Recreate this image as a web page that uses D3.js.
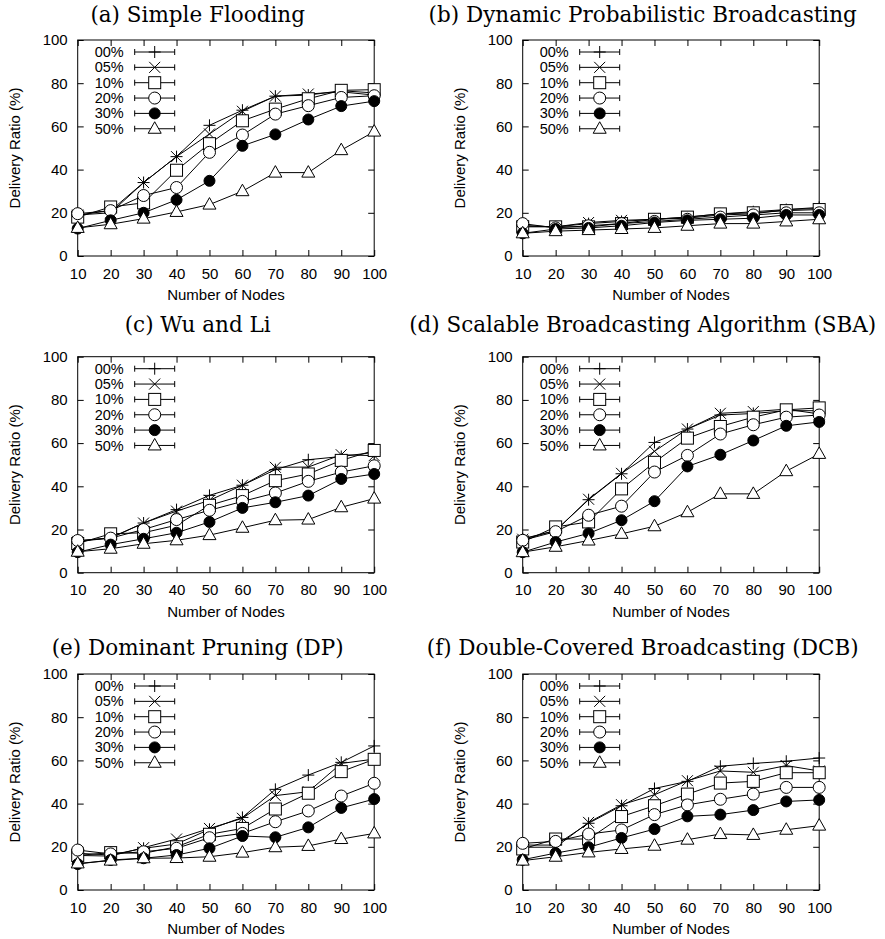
<!DOCTYPE html>
<html><head><meta charset="utf-8">
<script src="https://cdn.jsdelivr.net/npm/d3@7"></script>
<style>body{margin:0;background:#fff}</style>
</head><body><svg id="c" width="885" height="939"></svg>
<script>
const nodes = [10, 20, 30, 40, 50, 60, 70, 80, 90, 100];
const yTicks = [0, 20, 40, 60, 80, 100];
const seriesLabels = ["00%", "05%", "10%", "20%", "30%", "50%"];
const markerTypes = ["plus", "cross", "square", "circle", "disc", "triangle"];
const titles = [
  "(a) Simple Flooding",
  "(b) Dynamic Probabilistic Broadcasting",
  "(c) Wu and Li",
  "(d) Scalable Broadcasting Algorithm (SBA)",
  "(e) Dominant Pruning (DP)",
  "(f) Double-Covered Broadcasting (DCB)"
];
const simpleFlooding = [
  [19, 21, 34, 46, 60.5, 67.5, 74, 74.5, 76.5, 75.5],
  [19, 20, 34, 46, 56.5, 67, 74, 75, 76, 74.5],
  [18, 22.7, 24.6, 39.7, 52, 62.6, 68, 72.8, 76.7, 77],
  [19.6, 21, 28, 31.7, 48, 56, 65.7, 69.6, 73.4, 74.2],
  [12.7, 16.5, 20, 26, 34.8, 51, 56.3, 63.2, 69.4, 71.7],
  [13, 14.7, 17.3, 20.4, 23.8, 30, 38.6, 38.6, 49, 57.6]
];
const dynamicProb = [
  [14, 13.5, 15, 16, 17, 18, 19.5, 20.5, 21.5, 22.5],
  [14, 13.5, 15.5, 16.5, 17, 17.5, 19, 19.5, 21.5, 22],
  [13.5, 13.5, 13.5, 15, 17, 18, 19.5, 20, 21, 21.5],
  [15, 13, 14, 15, 16, 17, 18, 19, 20, 20],
  [10.5, 12.5, 13, 14, 15.5, 16.5, 17, 17.5, 19, 19],
  [10.5, 11.5, 12, 12.5, 13, 14, 15, 15, 16, 17]
];
const wuLi = [
  [14.6, 16.2, 23, 29.2, 35.8, 40.5, 47.7, 52.3, 53.8, 55.7],
  [14.5, 16, 23, 28.5, 33.5, 40.5, 48.8, 48.9, 54.6, 54.2],
  [13.5, 18, 18.5, 22, 31.2, 35.7, 42.6, 45.7, 52, 56.6],
  [14.9, 16, 20, 24.6, 28.9, 33, 36.9, 42.3, 46.6, 49.5],
  [9.5, 13, 15.7, 18.5, 23.5, 30, 32.6, 35.7, 43.4, 45.7],
  [9.7, 11.1, 13.4, 15, 17.4, 20.8, 24.3, 24.6, 30.3, 34.3]
];
const sba = [
  [15.7, 19.5, 33.8, 45.8, 60.3, 66.5, 73, 73.7, 75, 75],
  [15.5, 19.5, 34, 46, 56.2, 66.5, 73.8, 74.6, 75.7, 73.5],
  [14.2, 21.2, 23.5, 38.8, 51.1, 62.3, 67.7, 72, 75.4, 76.3],
  [15, 19, 26.6, 30.8, 46.6, 54.3, 64.2, 68.5, 72, 73],
  [9.5, 14.2, 18.2, 24.3, 33.1, 49.2, 54.6, 61.2, 68, 69.8],
  [9.5, 12, 14.9, 18, 21.5, 28, 36.5, 36.5, 47, 55]
];
const dominantPruning = [
  [17, 16.2, 19.3, 21.3, 28.1, 33.6, 46.6, 53.2, 59.1, 66.7],
  [16, 15.7, 19.6, 23.6, 28.5, 33.2, 43.7, 45.5, 58.6, 60.6],
  [16, 17.3, 17, 20, 25.8, 28.5, 37.5, 44.8, 54.8, 60.5],
  [18.5, 16.7, 17.7, 19.3, 24.2, 26.2, 31.6, 36.6, 43.5, 49.4],
  [12, 13.9, 14.7, 16.2, 19.3, 25, 24.4, 29, 38, 42.1],
  [12.3, 13.6, 14.7, 14.8, 15.4, 17.3, 19.8, 20.4, 23.6, 26.2]
];
const dcb = [
  [20.8, 20.8, 30.9, 39, 47, 50.3, 57.3, 58.6, 59.6, 61.1],
  [19.8, 19.8, 31.3, 39.5, 44.1, 50.6, 55.1, 54.5, 57.6, 55.1],
  [19, 23.6, 23.6, 34, 39, 44.4, 49.5, 50.3, 54.3, 54.3],
  [21.6, 22.5, 25.9, 27.8, 34.9, 39.4, 42, 44.4, 47.5, 47.5],
  [14, 17.1, 19.8, 24.1, 28.2, 34.1, 34.9, 37, 41, 41.7],
  [13.6, 15.4, 17.4, 19, 20.5, 23.3, 25.9, 25.5, 27.9, 29.8]
];
const panels = [simpleFlooding, dynamicProb, wuLi, sba, dominantPruning, dcb];

const svg = d3.select("#c");
svg.append("rect").attr("width", 885).attr("height", 939).attr("fill", "#fff");

const colLeft = [77.7, 522.7], plotW = 296.5, plotH = 216;
const rowTop = [40, 356.7, 674], titleBase = [22, 332, 655];
const sans = "'Liberation Sans', Arial, Helvetica, sans-serif";
const FS = 15, LFS = 14.5, LSTEP = 15.35;

function drawMarker(g, type, cx, cy) {
  const m = g.append("g").attr("transform", `translate(${cx},${cy})`)
    .attr("stroke", "#000").attr("stroke-width", 1);
  if (type === "plus") {
    m.append("path").attr("d", "M-6,0H6M0,-6V6").attr("fill", "none");
  } else if (type === "cross") {
    m.append("path").attr("d", "M-5.5,-5.5L5.5,5.5M-5.5,5.5L5.5,-5.5").attr("fill", "none");
  } else if (type === "square") {
    m.append("rect").attr("x", -6).attr("y", -6).attr("width", 12).attr("height", 12).attr("fill", "#fff");
  } else if (type === "circle") {
    m.append("circle").attr("r", 6).attr("fill", "#fff");
  } else if (type === "disc") {
    m.append("circle").attr("r", 5.5).attr("fill", "#000");
  } else if (type === "triangle") {
    m.append("path").attr("d", "M0,-7L6.5,4.5L-6.5,4.5Z").attr("fill", "#fff");
  }
}

panels.forEach((data, i) => {
  const col = i % 2, row = Math.floor(i / 2);
  const left = colLeft[col], top = rowTop[row];
  const g = svg.append("g").attr("transform", `translate(${left},${top})`);
  const x = d3.scaleLinear().domain([10, 100]).range([0, plotW]);
  const y = d3.scaleLinear().domain([0, 100]).range([plotH, 0]);

  // title
  svg.append("text").attr("x", left + 120).attr("y", titleBase[row])
    .attr("text-anchor", "middle").attr("font-family", "'DejaVu Serif', serif")
    .attr("font-size", 21.5).attr("fill", "#000").text(titles[i]);

  // axes
  const styleAxis = sel => {
    sel.attr("font-family", sans).attr("font-size", FS);
    sel.select(".domain").remove();
    sel.selectAll("line").attr("stroke", "#000");
    sel.selectAll("text").attr("fill", "#000");
  };
  g.append("g").attr("transform", `translate(0,${plotH})`)
    .call(d3.axisBottom(x).tickValues(nodes).tickSizeInner(-6).tickSizeOuter(0).tickPadding(12))
    .call(styleAxis);
  g.append("g")
    .call(d3.axisTop(x).tickValues(nodes).tickSizeInner(-6).tickSizeOuter(0).tickFormat(""))
    .call(styleAxis);
  g.append("g")
    .call(d3.axisLeft(y).tickValues(yTicks).tickSizeInner(-6).tickSizeOuter(0).tickPadding(10))
    .call(styleAxis);
  g.append("g").attr("transform", `translate(${plotW},0)`)
    .call(d3.axisRight(y).tickValues(yTicks).tickSizeInner(-6).tickSizeOuter(0).tickFormat(""))
    .call(styleAxis);
  g.append("rect").attr("width", plotW).attr("height", plotH)
    .attr("fill", "none").attr("stroke", "#000").attr("stroke-width", 1);

  // axis labels
  g.append("text").attr("x", plotW / 2).attr("y", plotH + 44)
    .attr("text-anchor", "middle").attr("font-family", sans).attr("font-size", FS)
    .attr("fill", "#000").text("Number of Nodes");
  g.append("text").attr("transform", `translate(-63,${plotH / 2}) rotate(-90)`)
    .attr("text-anchor", "middle").attr("dy", "0.35em").attr("font-family", sans).attr("font-size", FS)
    .attr("fill", "#000").text("Delivery Ratio (%)");

  // series
  const line = d3.line().x((d, k) => x(nodes[k])).y(d => y(d));
  data.forEach((vals, s) => {
    g.append("path").attr("d", line(vals)).attr("fill", "none")
      .attr("stroke", "#000").attr("stroke-width", 1);
    vals.forEach((v, k) => drawMarker(g, markerTypes[s], x(nodes[k]), y(v)));
  });

  // legend
  seriesLabels.forEach((lab, s) => {
    const ly = 12 + LSTEP * s;
    g.append("text").attr("x", 46).attr("y", ly).attr("dy", "0.35em")
      .attr("text-anchor", "end").attr("font-family", sans).attr("font-size", LFS)
      .attr("fill", "#000").text(lab);
    g.append("path").attr("d", `M57,${ly}H97M57,${ly - 3}V${ly + 3}M97,${ly - 3}V${ly + 3}`)
      .attr("stroke", "#000").attr("stroke-width", 1).attr("fill", "none");
    drawMarker(g, markerTypes[s], 77, ly);
  });
});
</script>
</body></html>
